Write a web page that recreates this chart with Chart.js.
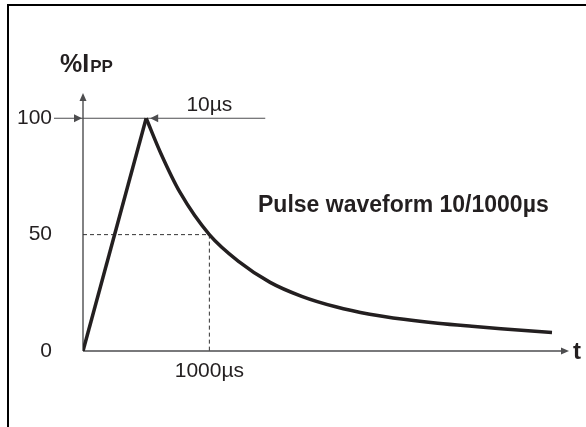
<!DOCTYPE html>
<html>
<head>
<meta charset="utf-8">
<script src="https://cdn.jsdelivr.net/npm/chart.js@4.4.1/dist/chart.umd.min.js"></script>
<style>
  html, body { margin: 0; padding: 0; background: #fff; }
  canvas { display: block; }
</style>
</head>
<body>
<canvas id="pulseChart" width="586" height="427"></canvas>
<script>
  "use strict";
  // データ(図から読み取った値、横軸は任意単位)
  const riseTime = [0, 13];
  const riseLevel = [0, 100];
  const decayTime = [13, 16, 20, 26, 32, 38.5, 45, 52, 59, 66, 73, 80, 86, 96.5];
  const decayLevel = [100, 85, 68, 50, 38.5, 29.5, 23.5, 19, 15.8, 13.6, 11.9, 10.6, 9.6, 8];
  const yTickValues = [0, 50, 100];
  const xTickValues = [26];
  const xTickLabels = ["1000µs"];

  const peakTime = 13;
  const peakLevel = 100;
  const halfTime = 26;
  const halfLevel = 50;

  const ink = "#231f20";
  const axisGray = "#4d4d4f";
  const fontFamily = '"Liberation Sans", Arial, Helvetica, sans-serif';

  Chart.defaults.font.family = fontFamily;
  Chart.defaults.color = ink;

  // 矢印の先
  function arrowHead(ctx, x, y, dir, len, half) {
    ctx.beginPath();
    ctx.moveTo(x, y);
    if (dir === "up") {
      ctx.lineTo(x - half, y + len);
      ctx.lineTo(x + half, y + len);
    } else if (dir === "right") {
      ctx.lineTo(x - len, y - half);
      ctx.lineTo(x - len, y + half);
    } else {
      ctx.lineTo(x + len, y - half);
      ctx.lineTo(x + len, y + half);
    }
    ctx.closePath();
    ctx.fill();
  }

  function seg(ctx, x1, y1, x2, y2) {
    ctx.beginPath();
    ctx.moveTo(x1, y1);
    ctx.lineTo(x2, y2);
    ctx.stroke();
  }

  const decorPlugin = {
    id: "decor",
    beforeDatasetsDraw(chart) {
      const { ctx, chartArea } = chart;
      const x = chart.scales.x;
      const y = chart.scales.y;
      const x0 = x.getPixelForValue(0);
      const y0 = y.getPixelForValue(0);
      const xEnd = x.getPixelForValue(x.max);
      const yTop = chartArea.top - 2;

      ctx.save();
      ctx.strokeStyle = axisGray;
      ctx.fillStyle = axisGray;
      ctx.lineWidth = 1.4;
      // 縦軸
      seg(ctx, x0, y0, x0, yTop + 6);
      arrowHead(ctx, x0, yTop, "up", 8, 3.5);
      // 横軸
      seg(ctx, x0, y0, xEnd - 6, y0);
      arrowHead(ctx, xEnd, y0, "right", 8, 3.5);

      // 100%の線と矢印
      const yPeak = y.getPixelForValue(peakLevel);
      ctx.lineWidth = 1.2;
      seg(ctx, x0 - 29, yPeak, x.getPixelForValue(37.5), yPeak);
      arrowHead(ctx, x0 - 1, yPeak, "right", 8, 4);
      arrowHead(ctx, x.getPixelForValue(peakTime) + 4, yPeak, "left", 8, 4);

      // 50%の点線
      const xHalf = x.getPixelForValue(halfTime);
      const yHalf = y.getPixelForValue(halfLevel);
      ctx.strokeStyle = "#333";
      ctx.lineWidth = 1;
      ctx.setLineDash([4, 3]);
      seg(ctx, x0, yHalf, xHalf, yHalf);
      seg(ctx, xHalf, yHalf, xHalf, y0);
      ctx.restore();
    },
    afterDraw(chart) {
      const { ctx } = chart;
      const x = chart.scales.x;
      const y = chart.scales.y;
      ctx.save();
      ctx.fillStyle = ink;
      ctx.textBaseline = "alphabetic";

      // 縦軸タイトル %Ipp
      ctx.font = "bold 25px " + fontFamily;
      ctx.fillText("%I", 60, 72);
      const w = ctx.measureText("%I").width;
      ctx.font = "bold 17px " + fontFamily;
      ctx.fillText("PP", 60 + w + 1, 72);

      // 10µs
      ctx.font = "21px " + fontFamily;
      ctx.textAlign = "center";
      ctx.fillText("10µs", x.getPixelForValue(halfTime), y.getPixelForValue(peakLevel) - 7);

      // t
      ctx.textAlign = "left";
      ctx.font = "bold 24px " + fontFamily;
      ctx.fillText("t", x.getPixelForValue(x.max) + 4, y.getPixelForValue(0) + 8);

      // 波形の名前
      ctx.font = "bold 23px " + fontFamily;
      ctx.fillText("Pulse waveform 10/1000µs", 258, 212);

      // 外枠
      ctx.fillStyle = "#000";
      ctx.fillRect(7, 4, 579, 2);
      ctx.fillRect(7, 4, 2, 423);
      ctx.restore();
    },
  };

  const riseData = riseTime.map((t, i) => ({ x: t, y: riseLevel[i] }));
  const decayData = decayTime.map((t, i) => ({ x: t, y: decayLevel[i] }));

  const ctx = document.getElementById("pulseChart").getContext("2d");

  const myChart = new Chart(ctx, {
    type: "line",
    data: {
      datasets: [
        {
          label: "rise",
          data: riseData,
          borderColor: ink,
          borderWidth: 3.5,
          pointRadius: 0,
          tension: 0,
        },
        {
          label: "decay",
          data: decayData,
          borderColor: ink,
          borderWidth: 3.5,
          pointRadius: 0,
          cubicInterpolationMode: "monotone",
        },
      ],
    },
    options: {
      responsive: false,
      animation: false,
      devicePixelRatio: 1,
      layout: {
        padding: { left: 0, right: 17, top: 95, bottom: 0 },
      },
      plugins: {
        legend: { display: false },
        tooltip: { enabled: false },
      },
      scales: {
        x: {
          type: "linear",
          min: 0,
          max: 100,
          grid: { display: false, drawTicks: false },
          border: { display: false },
          afterBuildTicks: (scale) => {
            scale.ticks = xTickValues.map((v) => ({ value: v }));
          },
          afterFit: (scale) => {
            scale.height = 76;
          },
          ticks: {
            padding: 8,
            maxRotation: 0,
            autoSkip: false,
            font: { size: 21 },
            color: ink,
            callback: (value) => xTickLabels[xTickValues.indexOf(value)],
          },
        },
        y: {
          type: "linear",
          min: 0,
          max: 110,
          grid: { display: false, drawTicks: false },
          border: { display: false },
          afterBuildTicks: (scale) => {
            scale.ticks = yTickValues.map((v) => ({ value: v }));
          },
          afterFit: (scale) => {
            scale.width = 83;
          },
          ticks: {
            padding: 31,
            font: { size: 21 },
            color: ink,
            callback: (value) => String(value),
          },
        },
      },
    },
    plugins: [decorPlugin],
  });
</script>
</body>
</html>
